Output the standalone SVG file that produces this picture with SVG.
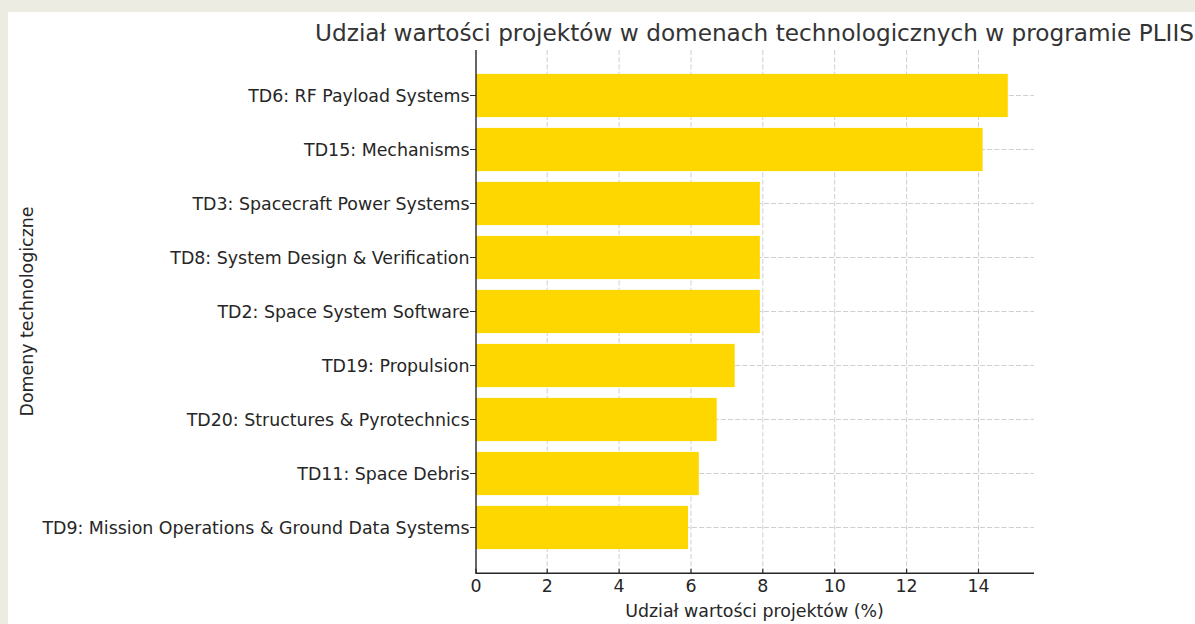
<svg xmlns="http://www.w3.org/2000/svg" width="1195" height="624" viewBox="0 0 1195 624">
<style>
text{font-family:"DejaVu Sans","Liberation Sans",sans-serif;fill:#262626}
.tk{font-size:17.4px}
.yl{text-anchor:end}
.xl{text-anchor:middle}
.bar{fill:#FFD700}
.grid{stroke:#cfcfcf;stroke-width:1;stroke-dasharray:5,2.2;fill:none}
.spine{stroke:#262626;stroke-width:1.4;fill:none}
.tick{stroke:#262626;stroke-width:1.2}
</style>
<rect x="0" y="0" width="1195" height="624" fill="#ecece2"/>
<rect x="8" y="12" width="1187" height="612" fill="#ffffff"/>
<g id="grid">
<path class="grid" d="M547.2 50V573M619.1 50V573M691 50V573M762.8 50V573M834.7 50V573M906.6 50V573M978.5 50V573"/>
<path class="grid" d="M476 95.5H1034M476 149.5H1034M476 203.5H1034M476 257.5H1034M476 311.5H1034M476 365.5H1034M476 419.5H1034M476 473.5H1034M476 527.5H1034"/>
</g>
<g id="bars">
<g id="bar-td6"><rect class="bar" x="476" y="73.9" width="531.8" height="43.2"/></g>
<g id="bar-td15"><rect class="bar" x="476" y="127.9" width="506.6" height="43.2"/></g>
<g id="bar-td3"><rect class="bar" x="476" y="181.9" width="283.9" height="43.2"/></g>
<g id="bar-td8"><rect class="bar" x="476" y="235.9" width="283.9" height="43.2"/></g>
<g id="bar-td2"><rect class="bar" x="476" y="289.9" width="283.9" height="43.2"/></g>
<g id="bar-td19"><rect class="bar" x="476" y="343.9" width="258.7" height="43.2"/></g>
<g id="bar-td20"><rect class="bar" x="476" y="397.9" width="240.7" height="43.2"/></g>
<g id="bar-td11"><rect class="bar" x="476" y="451.9" width="222.8" height="43.2"/></g>
<g id="bar-td9"><rect class="bar" x="476" y="505.9" width="212" height="43.2"/></g>
</g>
<g id="axes">
<path class="spine" d="M476 50V573.3H1034"/>
<path class="tick" d="M470 95.5H476M470 149.5H476M470 203.5H476M470 257.5H476M470 311.5H476M470 365.5H476M470 419.5H476M470 473.5H476M470 527.5H476"/>
<path class="tick" d="M476 568.8V573M547.2 568.8V573M619.1 568.8V573M691 568.8V573M762.8 568.8V573M834.7 568.8V573M906.6 568.8V573M978.5 568.8V573"/>
</g>
<g id="y-labels" class="tk yl">
<text x="469.5" y="101.8">TD6: RF Payload Systems</text>
<text x="469.5" y="155.8">TD15: Mechanisms</text>
<text x="469.5" y="209.8">TD3: Spacecraft Power Systems</text>
<text x="469.5" y="263.8">TD8: System Design &amp; Verification</text>
<text x="469.5" y="317.8">TD2: Space System Software</text>
<text x="469.5" y="371.8">TD19: Propulsion</text>
<text x="469.5" y="425.8">TD20: Structures &amp; Pyrotechnics</text>
<text x="469.5" y="479.8">TD11: Space Debris</text>
<text x="469.5" y="533.8">TD9: Mission Operations &amp; Ground Data Systems</text>
</g>
<g id="x-labels" class="tk xl">
<text x="476" y="591.7">0</text>
<text x="547.2" y="591.7">2</text>
<text x="619.1" y="591.7">4</text>
<text x="691" y="591.7">6</text>
<text x="762.8" y="591.7">8</text>
<text x="834.7" y="591.7">10</text>
<text x="906.6" y="591.7">12</text>
<text x="978.5" y="591.7">14</text>
</g>
<g id="axis-titles">
<text class="tk xl" x="754.5" y="616.5">Udział wartości projektów (%)</text>
<text class="tk xl" transform="translate(32.5,311.5) rotate(-90)">Domeny technologiczne</text>
</g>
<g id="title">
<text x="754.5" y="40.5" style="font-size:23.2px;text-anchor:middle;fill:#333333">Udział wartości projektów w domenach technologicznych w programie PLIIS</text>
</g>
</svg>
